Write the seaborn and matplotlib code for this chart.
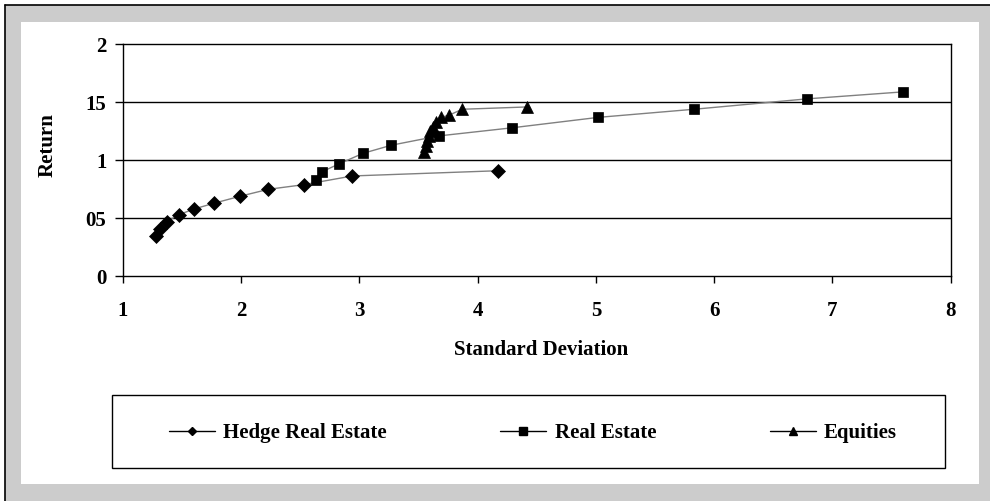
import matplotlib
matplotlib.use("Agg")
import matplotlib.pyplot as plt
import seaborn as sns
import pandas as pd
from matplotlib.lines import Line2D
from matplotlib.patches import Rectangle

# ---- data ----
series_names = ["Hedge Real Estate", "Real Estate", "Equities"]
hedge_sd = [1.28, 1.31, 1.37, 1.47, 1.60, 1.77, 1.99, 2.23, 2.53, 2.94, 4.17]
hedge_ret = [0.35, 0.41, 0.47, 0.53, 0.58, 0.63, 0.69, 0.75, 0.79, 0.865, 0.91]
re_sd = [2.63, 2.68, 2.83, 3.03, 3.27, 3.67, 4.29, 5.02, 5.83, 6.79, 7.60]
re_ret = [0.83, 0.90, 0.97, 1.06, 1.13, 1.21, 1.28, 1.37, 1.44, 1.53, 1.59]
eq_sd = [3.55, 3.56, 3.57, 3.59, 3.60, 3.62, 3.65, 3.69, 3.76, 3.87, 4.42]
eq_ret = [1.07, 1.12, 1.17, 1.21, 1.25, 1.29, 1.33, 1.37, 1.39, 1.44, 1.46]
x_ticks = [1, 2, 3, 4, 5, 6, 7, 8]
x_tick_labels = ["1", "2", "3", "4", "5", "6", "7", "8"]
y_ticks = [0, 0.5, 1, 1.5, 2]
y_tick_labels = ["0", "05", "1", "15", "2"]
x_label = "Standard Deviation"
y_label = "Return"

df = pd.concat([
    pd.DataFrame({"sd": hedge_sd, "ret": hedge_ret, "series": series_names[0]}),
    pd.DataFrame({"sd": re_sd, "ret": re_ret, "series": series_names[1]}),
    pd.DataFrame({"sd": eq_sd, "ret": eq_ret, "series": series_names[2]}),
], ignore_index=True)

sns.set_theme(style="white")
plt.rcParams["font.family"] = ["Liberation Serif", "DejaVu Serif"]
plt.rcParams["font.weight"] = "bold"
plt.rcParams["text.color"] = "black"
plt.rcParams["axes.labelcolor"] = "black"
plt.rcParams["xtick.color"] = "black"
plt.rcParams["ytick.color"] = "black"
FS = 15

W, H = 990, 501
fig = plt.figure(figsize=(W / 100, H / 100), dpi=100)
fig.patch.set_facecolor("white")

def fx(px):
    return px / W

def fy(py):
    return 1 - py / H

# outer gray frame with black left/top edge
fig.patches.append(Rectangle((fx(4.5), 0), 1 - fx(4.5), fy(5), transform=fig.transFigure,
                             facecolor="#cccccc", edgecolor="none", zorder=-5))
fig.lines.append(Line2D([fx(4.5), fx(4.5)], [0, fy(5)], transform=fig.transFigure,
                        color="black", lw=1.2, zorder=-4))
fig.lines.append(Line2D([fx(4.5), 1], [fy(5), fy(5)], transform=fig.transFigure,
                        color="black", lw=1.2, zorder=-4))
# white chart area
fig.patches.append(Rectangle((fx(21), fy(484)), fx(979) - fx(21), fy(22) - fy(484),
                             transform=fig.transFigure, facecolor="white",
                             edgecolor="none", zorder=-3))
# legend box
fig.patches.append(Rectangle((fx(112), fy(468)), fx(945) - fx(112), fy(395) - fy(468),
                             transform=fig.transFigure, facecolor="white",
                             edgecolor="black", lw=1.0, zorder=-2))

ax = fig.add_axes([fx(123), fy(276.3), fx(950.5) - fx(123), fy(44.3) - fy(276.3)])
ax.set_facecolor("white")

markers = {"Hedge Real Estate": ("D", 6.8), "Real Estate": ("s", 7.8), "Equities": ("^", 8.8)}
for name in series_names:
    m, ms = markers[name]
    sns.lineplot(data=df[df["series"] == name], x="sd", y="ret", ax=ax,
                 sort=False, estimator=None, color="#808080", lw=1.0,
                 marker=m, markersize=ms, markerfacecolor="black",
                 markeredgecolor="black", markeredgewidth=0.5, zorder=3)

ax.set_xlim(1, 8)
ax.set_ylim(0, 2)
ax.set_xticks(x_ticks)
ax.set_xticklabels(x_tick_labels)
ax.set_yticks(y_ticks)
ax.set_yticklabels(y_tick_labels)
for v in y_ticks[1:-1]:
    ax.axhline(v, color="black", lw=1.0, zorder=1)
for s in ax.spines.values():
    s.set_visible(True)
    s.set_color("black")
    s.set_linewidth(1.0)
ax.tick_params(axis="x", direction="out", length=5, width=1, pad=13,
               labelsize=FS, colors="black", bottom=True)
ax.tick_params(axis="y", direction="out", length=6, width=1, pad=6,
               labelsize=FS, colors="black", left=True)
for t in ax.get_xticklabels() + ax.get_yticklabels():
    t.set_fontweight("bold")
    t.set_color("black")

ax.set_xlabel(x_label, fontsize=FS, fontweight="bold", va="center", color="black")
ax.set_ylabel(y_label, fontsize=FS, fontweight="bold", va="center", color="black")
ax.xaxis.set_label_coords((541 - 123) / 827.5, (276.3 - 350) / 232)
ax.yaxis.set_label_coords((48 - 123) / 827.5, (276.3 - 145) / 232)

handles = [
    Line2D([], [], color="black", lw=1.0, marker="D", markersize=4.5, markerfacecolor="black"),
    Line2D([], [], color="black", lw=1.0, marker="s", markersize=5.5, markerfacecolor="black"),
    Line2D([], [], color="black", lw=1.0, marker="^", markersize=6, markerfacecolor="black"),
]
leg = fig.legend(handles, series_names, loc="center", bbox_to_anchor=(fx(533), fy(433)),
                 ncol=3, frameon=False, columnspacing=5.45, handlelength=2.2,
                 handletextpad=0.4, labelcolor="black",
                 prop={"family": "Liberation Serif", "weight": "bold", "size": FS})
leg.set_zorder(5)

fig.savefig("out.png", dpi=100, facecolor=fig.get_facecolor())
